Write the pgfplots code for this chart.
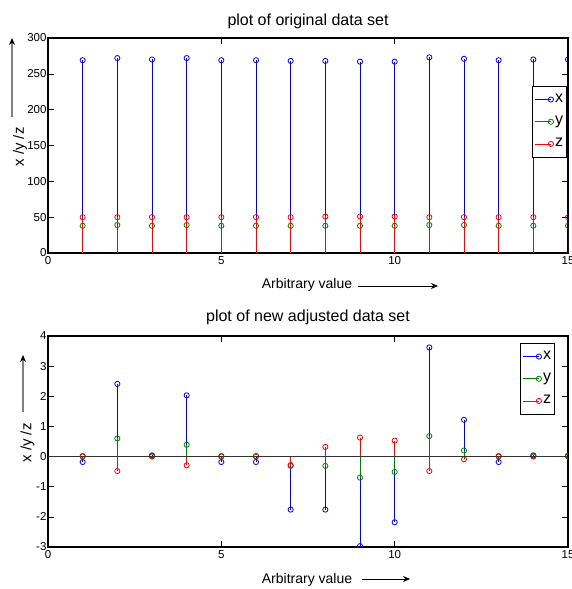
\documentclass[border=0pt]{standalone}
\usepackage{fontspec}
\setmainfont{Liberation Sans}
\usepackage{pgfplots}
\usepackage{pgfplotstable}
\pgfplotsset{compat=1.18}
\usetikzlibrary{arrows.meta}

\pgfplotstableread{
n x y z
1 269 38 50
2 272 39 50
3 270 38 50
4 272 39 50
5 269 38 50
6 269 38 50
7 268 38 50
8 268 38 51
9 267 38 51
10 267 38 51
11 273 39 50
12 271 39 50
13 269 38 50
14 270 38 50
15 270 38 50
}\orig

\pgfplotstableread{
n x y z
1 -0.18 0.00 0.02
2 2.41 0.60 -0.48
3 0.04 0.00 0.02
4 2.03 0.39 -0.29
5 -0.18 0.00 0.02
6 -0.18 0.00 0.02
7 -1.76 -0.31 -0.28
8 -1.76 -0.31 0.32
9 -2.97 -0.70 0.63
10 -2.18 -0.51 0.53
11 3.62 0.68 -0.48
12 1.22 0.20 -0.09
13 -0.18 0.00 0.02
14 0.04 0.00 0.02
15 0.03 0.00 0.03
}\adj

\definecolor{mblue}{rgb}{0,0,1}
\definecolor{mgreen}{rgb}{0,0.5,0}
\definecolor{mred}{rgb}{1,0,0}

\pgfplotsset{
  mystem/.style={ycomb, mark=o, mark size=2.6pt, line width=0.8pt,
    mark options={solid, line width=0.8pt},
    legend image code/.code={
      \draw[##1, mark=none] (0pt,0pt) -- (16pt,0pt);
      \draw[##1, only marks] plot coordinates {(16pt,0pt)};
    }},
  myaxis/.style={
    scale only axis, width=520pt,
    xmin=0, xmax=15, xtick={0,5,10,15},
    tick align=inside, major tick length=6pt,
    axis line style={line width=1.2pt},
    tick style={black, line width=0.6pt},
    ticklabel style={font=\fontsize{11.5}{11.5}\selectfont},
    yticklabel style={xshift=2pt},
    /pgf/number format/assume math mode=true,
    clip marker paths=true,
    legend cell align=left,
    legend style={font=\fontsize{16}{16}\selectfont, draw=black, fill=white,
      line width=1pt, inner xsep=2pt, inner ysep=7pt, row sep=10pt,
      nodes={inner sep=1.5pt, text depth=0.2em, text height=0.72em}},
  }
}

\begin{document}
\begin{tikzpicture}[x=1pt,y=1pt]
\path[use as bounding box] (0pt,0pt) rectangle (572pt,589pt);

% top axis
\begin{axis}[myaxis, at={(48pt,336pt)}, anchor=south west, height=215pt,
  ymin=0, ymax=300, ytick={0,50,...,300},
  legend style={at={(1,0.777)}, anchor=north east, xshift=-1pt}]
\addplot[mystem, mblue] table[x=n, y=x] {\orig};
\addlegendentry{x}
\addplot[mystem, mgreen] table[x=n, y=y] {\orig};
\addlegendentry{y}
\addplot[mystem, mred] table[x=n, y=z] {\orig};
\addlegendentry{z}
\end{axis}

% bottom axis
\begin{axis}[myaxis, at={(48pt,42pt)}, anchor=south west, height=211pt,
  ymin=-3, ymax=4, ytick={-3,-2,...,4},
  legend style={at={(0.975,0.967)}, anchor=north east}]
\addplot[mystem, mblue] table[x=n, y=x] {\adj};
\addlegendentry{x}
\addplot[mystem, mgreen] table[x=n, y=y] {\adj};
\addlegendentry{y}
\addplot[mystem, mred] table[x=n, y=z] {\adj};
\addlegendentry{z}
\addplot[black!80, line width=0.7pt, forget plot] coordinates {(0,0) (15,0)};
\end{axis}

% titles
\node[anchor=base, font=\fontsize{16}{16}\selectfont] at (308pt,563pt) {plot of original data set};
\node[anchor=base, font=\fontsize{16}{16}\selectfont] at (308pt,267pt) {plot of new adjusted data set};

% x labels
\node[anchor=base, font=\fontsize{14}{14}\selectfont] at (307pt,300pt) {Arbitrary value};
\draw[black, line width=0.8pt, -{Stealth[length=7pt,width=6pt]}] (358pt,303pt) -- (438pt,303pt);
\node[anchor=base, font=\fontsize{14}{14}\selectfont] at (307pt,5pt) {Arbitrary value};
\draw[black, line width=0.8pt, -{Stealth[length=7pt,width=6pt]}] (362pt,10pt) -- (410pt,10pt);

% y labels
\node[rotate=90, font=\fontsize{15}{15}\selectfont] at (20pt,442pt) {x /y /z};
\draw[gray, line width=1.2pt, -{Stealth[black,length=7pt,width=6pt]}] (12pt,472pt) -- (12pt,551pt);
\node[rotate=90, font=\fontsize{15}{15}\selectfont] at (27.5pt,146pt) {x /y /z};
\draw[gray, line width=1.2pt, -{Stealth[black,length=7pt,width=6pt]}] (23pt,177pt) -- (23pt,234pt);
\end{tikzpicture}
\end{document}
